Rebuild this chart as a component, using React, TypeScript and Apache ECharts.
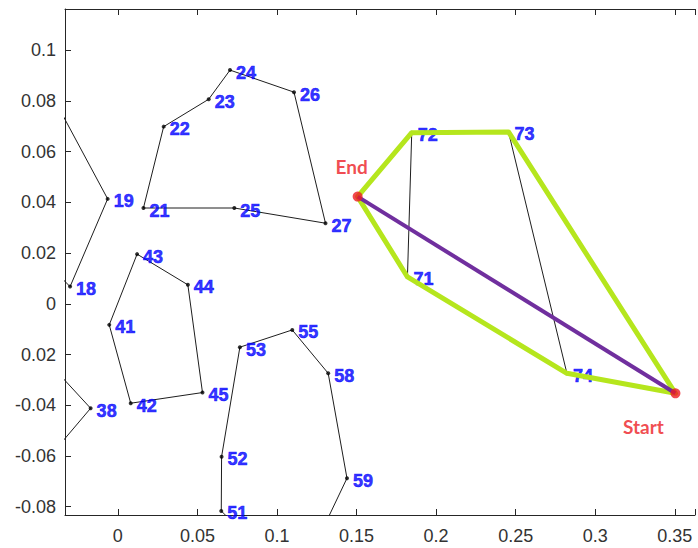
import { useEffect, useRef } from 'react';
import * as echarts from 'echarts';

// Axis ranges and tick labels
const X_MIN = -0.0332;
const X_MAX = 0.3627;
const Y_MIN = -0.0833;
const Y_MAX = 0.1163;
const X_TICKS = [0, 0.05, 0.1, 0.15, 0.2, 0.25, 0.3, 0.35];
const X_TICK_LABELS = ['0', '0.05', '0.1', '0.15', '0.2', '0.25', '0.3', '0.35'];
const Y_TICKS = [-0.08, -0.06, -0.04, -0.02, 0, 0.02, 0.04, 0.06, 0.08, 0.1];
const Y_TICK_LABELS = ['-0.08', '-0.06', '-0.04', '0.02', '0', '0.02', '0.04', '0.06', '0.08', '0.1'];

// Labelled nodes
const NODE_NAMES = ['18', '19', '21', '22', '23', '24', '25', '26', '27', '38', '41', '42', '43', '44', '45', '51', '52', '53', '55', '58', '59', '71', '72', '73', '74'];
const NODE_X = [-0.03, -0.0064, 0.0161, 0.0288, 0.0571, 0.0705, 0.0732, 0.1107, 0.1305, -0.0171, -0.0054, 0.0081, 0.0121, 0.044, 0.0532, 0.065, 0.0652, 0.0767, 0.1096, 0.1322, 0.144, 0.182, 0.1847, 0.2455, 0.2822];
const NODE_Y = [0.0068, 0.0414, 0.0378, 0.0699, 0.0807, 0.0922, 0.0378, 0.0835, 0.0318, -0.0412, -0.0083, -0.0392, 0.0196, 0.0075, -0.035, -0.0817, -0.0603, -0.0171, -0.0103, -0.0274, -0.0688, 0.0106, 0.0675, 0.0678, -0.0274];

// Nodes outside the visible area (lines run off the plot)
const HIDDEN_NAMES = ['h1', 'h2', 'h3', 'h4', 'h5', 'h6'];
const HIDDEN_X = [-0.0425, -0.0394, -0.0425, -0.0425, 0.0763, 0.1276];
const HIDDEN_Y = [0.0836, 0.0127, -0.0239, -0.06, -0.0888, -0.0904];

// Start / End
const END_POINT = [0.1507, 0.0423];
const START_POINT = [0.3504, -0.0353];

// Thin black polylines
const LOOPS: string[][] = [
  ['h1', '19', '18', 'h2'],
  ['21', '22', '23', '24', '26', '27', '25', '21'],
  ['43', '44', '45', '42', '41', '43'],
  ['h3', '38', 'h4'],
  ['h5', '51', '52', '53', '55', '58', '59', 'h6'],
  ['71', '72', '73', '74', '71'],
];

// Green route
const ROUTE = ['End', '72', '73', 'Start', '74', '71', 'End'];

function coord(name: string): number[] {
  if (name === 'End') return END_POINT;
  if (name === 'Start') return START_POINT;
  let i = NODE_NAMES.indexOf(name);
  if (i >= 0) return [NODE_X[i], NODE_Y[i]];
  i = HIDDEN_NAMES.indexOf(name);
  return [HIDDEN_X[i], HIDDEN_Y[i]];
}

const pick = (ticks: number[], labels: string[]) => (v: number) => {
  const i = ticks.findIndex((t) => Math.abs(t - v) < 1e-6);
  return i >= 0 ? labels[i] : '';
};

const AXIS_COLOR = '#262626';
const SANS = 'Arial';

export default function App() {
  const ref = useRef<HTMLDivElement>(null);
  useEffect(() => {
    if (!ref.current) return;
    const chart = echarts.init(ref.current, null, { renderer: 'svg' });
    const axisCommon = {
      type: 'value' as const,
      splitLine: { show: false },
      axisLine: { show: true, onZero: false, lineStyle: { color: AXIS_COLOR, width: 1 } },
      axisTick: { show: true, inside: true, length: 6, lineStyle: { color: AXIS_COLOR } },
    };
    const series: any[] = [];
    LOOPS.forEach((loop, k) => {
      series.push({
        type: 'line',
        name: 'loop' + k,
        data: loop.map(coord),
        showSymbol: false,
        symbol: 'none',
        clip: true,
        lineStyle: { color: '#1e1e1e', width: 1 },
        z: 1,
      });
    });
    series.push({
      type: 'scatter',
      name: 'nodes',
      data: NODE_NAMES.map((n, i) => ({ name: n, value: [NODE_X[i], NODE_Y[i]] })),
      symbol: 'circle',
      symbolSize: 4,
      itemStyle: { color: '#000' },
      clip: true,
      z: 2,
      label: {
        show: true,
        position: 'right',
        distance: 4,
        offset: [0, 2.5],
        formatter: (p: any) => p.name,
        color: '#0000ff',
        textBorderColor: '#0000ff',
        textBorderWidth: 0.6,
        fontFamily: SANS,
        fontWeight: 'bold',
        fontSize: 18,
      },
    });
    series.push({
      type: 'line',
      name: 'route',
      data: ROUTE.map(coord),
      showSymbol: false,
      symbol: 'none',
      lineStyle: { color: '#b5e61d', width: 5, join: 'round', cap: 'round' },
      z: 3,
    });
    series.push({
      type: 'line',
      name: 'direct',
      data: [END_POINT, START_POINT],
      showSymbol: false,
      symbol: 'none',
      lineStyle: { color: '#702f9e', width: 4 },
      z: 4,
    });
    series.push({
      type: 'scatter',
      name: 'ends',
      symbol: 'circle',
      symbolSize: 10,
      itemStyle: { color: '#ed1c24' },
      z: 5,
      data: [
        {
          name: 'End',
          value: END_POINT,
          label: { offset: [-6, -30] },
        },
        {
          name: 'Start',
          value: START_POINT,
          label: { offset: [-32, 33] },
        },
      ],
      label: {
        show: true,
        position: 'inside',
        formatter: (p: any) => p.name,
        color: '#ed1c24',
        textBorderWidth: 0,
        fontFamily: 'Lato',
        fontWeight: 'bold',
        fontSize: 19,
      },
    });

    chart.setOption({
      animation: false,
      backgroundColor: '#ffffff',
      grid: { left: 65, top: 9, right: 0, bottom: 33, containLabel: false },
      xAxis: [
        {
          ...axisCommon,
          position: 'bottom',
          min: X_MIN,
          max: X_MAX,
          splitNumber: 8,
          axisLabel: {
            show: true,
            margin: 12,
            color: '#333',
            fontSize: 18,
            fontFamily: SANS,
            formatter: pick(X_TICKS, X_TICK_LABELS),
          },
        },
        {
          ...axisCommon,
          position: 'top',
          min: X_MIN,
          max: X_MAX,
          splitNumber: 8,
          axisLabel: { show: false },
        },
      ],
      yAxis: [
        {
          ...axisCommon,
          position: 'left',
          min: Y_MIN,
          max: Y_MAX,
          splitNumber: 10,
          axisLabel: {
            show: true,
            margin: 9,
            color: '#333',
            fontSize: 18,
            fontFamily: SANS,
            formatter: pick(Y_TICKS, Y_TICK_LABELS),
          },
        },
      ],
      series,
    });
    return () => chart.dispose();
  }, []);
  return (
    <div
      ref={ref}
      style={{ position: 'fixed', left: 0, top: 0, width: 698, height: 548, background: '#fff' }}
    />
  );
}
